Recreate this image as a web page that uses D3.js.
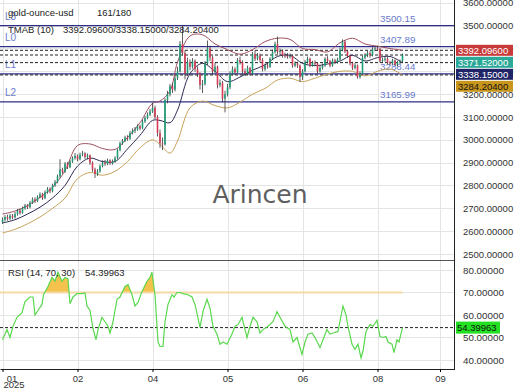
<!DOCTYPE html>
<html><head><meta charset="utf-8">
<script src="https://cdn.jsdelivr.net/npm/d3@7"></script>
<style>body{margin:0;background:#fff}svg{display:block;font-family:"Liberation Sans",Arial,sans-serif}</style>
</head><body><svg id="c" width="520" height="390"></svg>
<script>
// ---------- data ----------
const opens = [2640,2650,2662,2655,2668,2660,2675,2690,2680,2700,
2712,2705,2725,2740,2732,2750,2762,2745,2770,2785,
2775,2800,2815,2840,2870,2860,2895,2880,2905,2920,
2930,2915,2935,2940,2925,2932,2900,2870,2850,2862,
2885,2900,2895,2910,2898,2905,2920,2955,2985,2995,
3010,3005,3030,3040,3045,3060,3050,3080,3095,3110,
3125,3140,3100,3030,2985,2980,3175,3200,3235,3220,
3270,3300,3420,3380,3290,3340,3320,3345,3310,3290,
3240,3245,3335,3400,3360,3300,3320,3240,3250,3180,
3200,3230,3290,3310,3295,3350,3340,3300,3290,3315,
3290,3375,3355,3370,3350,3310,3325,3320,3355,3385,
3420,3385,3390,3370,3368,3365,3368,3325,3335,3325,
3275,3300,3340,3355,3325,3338,3335,3300,3315,3325,
3355,3345,3325,3348,3340,3352,3395,3430,3388,3368,
3335,3315,3326,3275,3290,3360,3372,3380,3370,3397,
3400,3398,3345,3350,3356,3338,3335,3348,3330,3340,
3345];
const closes = [2650,2662,2655,2668,2660,2675,2690,2680,2700,2712,
2705,2725,2740,2732,2750,2762,2745,2770,2785,2775,
2800,2815,2840,2870,2860,2895,2880,2905,2920,2930,
2915,2935,2940,2925,2932,2900,2870,2850,2862,2885,
2900,2895,2910,2898,2905,2920,2955,2985,2995,3010,
3005,3030,3040,3045,3060,3050,3080,3095,3110,3125,
3140,3100,3030,2985,2980,3175,3200,3235,3220,3270,
3300,3420,3380,3290,3340,3320,3345,3310,3290,3240,
3245,3335,3400,3360,3300,3320,3240,3250,3180,3200,
3230,3290,3310,3295,3350,3340,3300,3290,3315,3290,
3375,3355,3370,3350,3310,3325,3320,3355,3385,3420,
3385,3390,3370,3368,3365,3368,3325,3335,3325,3275,
3300,3340,3355,3325,3338,3335,3300,3315,3325,3355,
3345,3325,3348,3340,3352,3395,3430,3388,3368,3335,
3315,3326,3275,3290,3360,3372,3380,3370,3397,3400,
3398,3345,3350,3356,3338,3335,3348,3330,3340,3345,
3371.52];
const highs = [2660,2670,2672,2676,2675,2684,2697,2699,2708,2720,
2718,2732,2748,2748,2757,2770,2768,2778,2793,2792,
2808,2824,2848,2915,2878,2903,2902,2912,2928,2942,
2936,2944,2952,2946,2940,2936,2906,2878,2872,2892,
2910,2912,2918,2915,2914,2928,2962,2992,3004,3018,
3020,3038,3050,3056,3068,3066,3088,3104,3120,3135,
3162,3150,3108,3045,3010,3182,3215,3245,3248,3285,
3320,3432,3500,3392,3360,3352,3358,3352,3322,3296,
3262,3345,3435,3412,3368,3338,3325,3265,3258,3215,
3245,3300,3322,3318,3358,3365,3348,3312,3325,3320,
3385,3392,3380,3378,3358,3334,3340,3362,3395,3430,
3452,3400,3396,3382,3380,3378,3372,3344,3342,3330,
3310,3350,3365,3360,3346,3348,3340,3325,3334,3362,
3366,3350,3356,3355,3360,3404,3440,3436,3394,3372,
3342,3336,3330,3300,3368,3380,3390,3388,3405,3410,
3412,3402,3360,3365,3362,3346,3355,3352,3346,3352,
3378];
const lows = [2632,2643,2646,2648,2652,2655,2668,2672,2676,2694,
2697,2700,2719,2724,2727,2744,2737,2740,2764,2766,
2770,2794,2810,2834,2852,2855,2872,2876,2899,2913,
2906,2910,2928,2917,2915,2890,2860,2833,2842,2856,
2879,2886,2889,2890,2891,2900,2915,2950,2978,2990,
2996,3000,3024,3030,3040,3042,3046,3074,3090,3104,
3118,3090,3015,2965,2955,2975,3160,3190,3205,3212,
3262,3295,3370,3265,3280,3305,3312,3298,3275,3220,
3205,3238,3328,3345,3285,3290,3225,3230,3165,3120,
3190,3222,3282,3285,3290,3330,3290,3280,3284,3282,
3285,3345,3348,3340,3300,3302,3312,3315,3350,3378,
3375,3370,3360,3358,3355,3356,3316,3318,3315,3253,
3262,3295,3334,3318,3320,3326,3290,3294,3308,3320,
3338,3318,3320,3332,3334,3348,3388,3380,3358,3326,
3306,3308,3268,3268,3286,3352,3362,3360,3365,3388,
3390,3338,3336,3342,3330,3326,3330,3322,3322,3332,
3340];

const bandIdx = [0,5,10,15,20,25,30,35,40,45,50,55,60,63,67,70,75,80,85,90,95,100,105,110,115,120,125,130,135,140,145,150,155,160];
const bandTop = [2675,2688,2712,2748,2792,2865,2975,2982,2962,2958,3010,3075,3160,3170,3215,3340,3455,3460,3420,3395,3375,3395,3430,3445,3440,3400,3395,3385,3425,3445,3420,3410,3400,3392.096];
const bandMid = [2636,2650,2675,2705,2745,2800,2885,2920,2905,2905,2960,3020,3085,3085,3075,3130,3290,3335,3300,3255,3275,3305,3328,3365,3370,3335,3325,3332,3345,3370,3345,3360,3365,3338.15];
const bandLow = [2592,2608,2632,2662,2700,2745,2830,2857,2845,2862,2905,2965,3000,2980,2942,2995,3140,3170,3150,3140,3165,3200,3225,3262,3270,3255,3270,3288,3300,3300,3280,3300,3310,3284.204];

const rsiIdx = [0,1.8,3,4.2,5.8,7.8,9,11,12.2,13,14.2,15.8,16.4,18.2,19.8,21,22.2,23.8,25,26.2,27,28.2,29.8,31.8,33,33.8,35,36.2,37.4,38.2,39.8,41,42.2,43,44.2,45.8,47,49,50.2,51.8,53,54.2,55.8,57.8,59,59.8,61,62.2,63,64.2,65,66.2,67.8,68.6,69.8,71,72.2,74.2,75.8,77,79,80.2,81.8,83,84.2,85.8,87,88.2,89.8,91.8,93,94.2,95.8,97,97.8,99,100.2,101.8,103,104.2,106.2,108.2,109.8,111,113,115,116.2,117.8,119.8,121,122.2,123.8,125,127,128.2,129.8,131,132.2,134.2,136.2,137.4,138.2,139.8,141,142.2,143.4,144.2,145.4,147,148.2,149.8,151,152.2,153.4,154.2,155.8,156.6,157.8,158.6,160];
const rsiVal = [49,53.5,50,55,59,61,66,68,68,60,62,64.7,69,72.7,76.7,75,79,75,76.7,76,65,68,69.5,69.5,69.8,64,62,54,49,53.5,59,57,55,52,57,67,68,72.7,73.5,69,64,65.6,70.5,75,76.7,79,69,48,46,46,57,64.7,69,68,70,70,69.5,69,68,64.7,54.5,61.5,67,63,55,51.5,47,48,47,51.5,55,55.7,59,53.5,50,55,59,57,52,53.5,55,57,61.5,59,55,53.5,48,50,42.5,48,51.5,52,50,45.5,49,53.5,51.5,52,52.7,64,60,55,47,44.7,47,41,44,52.7,55.7,55,57.6,50.4,50,50.4,48,47,43.3,49,48,54.39963];

const levelNames = ["L3","L0","L1","L2"];
const levelValues = [3500.15,3407.89,3288.44,3165.99];
const currentValues = [3392.096,3371.52,3338.15,3284.204];
const currentLabels = ["3392.09600","3371.52000","3338.15000","3284.20400"];
const priceTicks = [2500,2600,2700,2800,2900,3000,3100,3200,3300,3400,3500,3600];
const rsiTicks = [40,50,60,70,80];
const xTickIdx = [0,30,60,90,120,150,175];
const xTickLabels = ["01","02","04","05","06","08","09"];
const rsiLast = 54.39963;

// ---------- layout ----------
const svg = d3.select("#c");
const plotR = 454;
const x = d3.scaleLinear().domain([-1,180.6]).range([0,plotR]);
const y = d3.scaleLinear().domain([2478.1,3612.4]).range([259,0]);
const yr = d3.scaleLinear().domain([36,84.44]).range([369,260]);
const idx = d3.range(closes.length);

const grid = svg.append("g").attr("stroke","#e4e4e4").attr("stroke-width",1);
priceTicks.forEach(v=>grid.append("line").attr("x1",0).attr("x2",plotR).attr("y1",Math.round(y(v))+0.5).attr("y2",Math.round(y(v))+0.5));
rsiTicks.forEach(v=>grid.append("line").attr("x1",0).attr("x2",plotR).attr("y1",Math.round(yr(v))+0.5).attr("y2",Math.round(yr(v))+0.5));
xTickIdx.forEach(v=>grid.append("line").attr("x1",Math.round(x(v))+0.5).attr("x2",Math.round(x(v))+0.5).attr("y1",0).attr("y2",369));

// level lines
const lvl = svg.append("g");
levelValues.forEach((v,i)=>{
  lvl.append("line").attr("x1",0).attr("x2",plotR).attr("y1",y(v)).attr("y2",y(v)).attr("stroke","#2e2e8a").attr("stroke-width",1.3);
  lvl.append("text").attr("x",380).attr("y",y(v)-4).attr("font-size",9.8).attr("fill","#6b7bcc").text(v.toFixed(2));
  lvl.append("text").attr("x",5).attr("y",y(v)-6).attr("font-size",10).attr("fill","#6b7bcc").text(levelNames[i]);
});
// current dashed lines
currentValues.forEach(v=>{
  svg.append("line").attr("x1",0).attr("x2",plotR).attr("y1",y(v)).attr("y2",y(v)).attr("stroke","#222").attr("stroke-width",1).attr("stroke-dasharray","3,2");
});

// bands
const bandLine = arr => d3.line().x((d,i)=>x(bandIdx[i])).y(d=>y(d)).curve(d3.curveCatmullRom)(arr);
svg.append("path").attr("d",bandLine(bandTop)).attr("fill","none").attr("stroke","#a0505f").attr("stroke-width",1);
svg.append("path").attr("d",bandLine(bandMid)).attr("fill","none").attr("stroke","#2b2b55").attr("stroke-width",1);
svg.append("path").attr("d",bandLine(bandLow)).attr("fill","none").attr("stroke","#c8a25a").attr("stroke-width",1);

// candles
const cg = svg.append("g");
idx.forEach(i=>{
  const up = closes[i] >= opens[i];
  cg.append("line").attr("x1",x(i)).attr("x2",x(i)).attr("y1",y(highs[i])).attr("y2",y(lows[i])).attr("stroke","#333").attr("stroke-width",0.8);
  const t = y(Math.max(opens[i],closes[i])), b = y(Math.min(opens[i],closes[i]));
  cg.append("rect").attr("x",x(i)-0.8).attr("width",1.6).attr("y",t).attr("height",Math.max(1,b-t)).attr("fill",up?"#1e9e78":"#d63a55");
});

// watermark
svg.append("text").attr("x",260).attr("y",203).attr("text-anchor","middle").attr("font-family","DejaVu Sans").attr("font-size",25).attr("fill","#5f5f5f").text("Arincen");

// RSI panel
svg.append("line").attr("x1",0).attr("x2",plotR).attr("y1",260.5).attr("y2",260.5).attr("stroke","#555");
const rsiPts = rsiIdx.map((d,i)=>[d,rsiVal[i]]);
svg.append("clipPath").attr("id","above70").append("rect").attr("x",0).attr("y",260).attr("width",plotR).attr("height",yr(70)-260);
svg.append("path").attr("clip-path","url(#above70)")
  .attr("d",d3.area().x(d=>x(d[0])).y0(yr(70)).y1(d=>yr(d[1]))(rsiPts))
  .attr("fill","#f5c24e");
svg.append("line").attr("x1",0).attr("x2",x(160)).attr("y1",yr(70)).attr("y2",yr(70)).attr("stroke","#f6d9a6").attr("stroke-width",2);
svg.append("line").attr("x1",0).attr("x2",plotR).attr("y1",yr(rsiLast)).attr("y2",yr(rsiLast)).attr("stroke","#222").attr("stroke-dasharray","3,2");
svg.append("path").attr("d",d3.line().x(d=>x(d[0])).y(d=>yr(d[1]))(rsiPts)).attr("fill","none").attr("stroke","#5ad84e").attr("stroke-width",1.2);

// axes
const ax = svg.append("g").attr("transform",`translate(${plotR},0)`).call(d3.axisRight(y).tickValues(priceTicks).tickFormat(d=>d.toFixed(5)).tickSize(0).tickPadding(9));
ax.select(".domain").remove();
ax.selectAll("text").attr("font-size",9.5).attr("fill","#333").attr("font-family","Liberation Sans, Arial, sans-serif");
const axr = svg.append("g").attr("transform",`translate(${plotR},0)`).call(d3.axisRight(yr).tickValues(rsiTicks).tickFormat(d=>d.toFixed(5)).tickSize(0).tickPadding(9));
axr.select(".domain").remove();
axr.selectAll("text").attr("font-size",9.8).attr("fill","#333").attr("font-family","Liberation Sans, Arial, sans-serif");

const axb = svg.append("g").attr("transform","translate(0,369)").call(d3.axisBottom(x).tickValues(xTickIdx).tickFormat((d,i)=>xTickLabels[i]).tickSizeInner(3).tickSizeOuter(0).tickPadding(3));
axb.select(".domain").attr("stroke","#222");
axb.selectAll("text").attr("font-size",9.5).attr("fill","#333").attr("font-family","Liberation Sans, Arial, sans-serif");
axb.selectAll(".tick").filter((d,i)=>i===0).select("text").attr("x",9);
svg.append("text").attr("x",14).attr("y",388).attr("text-anchor","middle").attr("font-size",9.5).attr("fill","#333").text("2025");
svg.append("line").attr("x1",plotR+0.5).attr("x2",plotR+0.5).attr("y1",0).attr("y2",370).attr("stroke","#222");

// badges
const badgeFill = ["#c83a3a","#2aa898","#1f2466","#c9961c"];
const badgeText = ["#fff","#fff","#fff","#111"];
let prev = -100;
currentValues.forEach((v,i)=>{
  let cy = Math.max(y(v), prev + 12); prev = cy;
  svg.append("rect").attr("x",456).attr("y",cy-5.5).attr("width",57).attr("height",11).attr("fill",badgeFill[i]);
  svg.append("text").attr("x",458).attr("y",cy+3.5).attr("font-size",9.5).attr("fill",badgeText[i]).text(currentLabels[i]);
});
svg.append("rect").attr("x",456).attr("y",yr(rsiLast)-6).attr("width",44).attr("height",12).attr("fill","#22e022");
svg.append("text").attr("x",457).attr("y",yr(rsiLast)+3.5).attr("font-size",9.5).attr("fill","#111").text(rsiLast.toFixed(5));

// headers
svg.append("text").attr("x",8).attr("y",16).attr("font-size",9.5).attr("fill","#222").text("gold-ounce-usd");
svg.append("text").attr("x",97).attr("y",16).attr("font-size",9.5).attr("fill","#222").text(`${closes.length}/180`);
svg.append("text").attr("x",8).attr("y",33).attr("font-size",9.5).attr("fill","#222").text("TMAB (10)");
svg.append("text").attr("x",63).attr("y",33).attr("font-size",9.5).attr("fill","#222").text(currentLabels[0]+"/"+currentLabels[2]+"/"+currentLabels[3]);
svg.append("text").attr("x",8).attr("y",276).attr("font-size",9.5).attr("fill","#222").text("RSI (14, 70, 30)");
svg.append("text").attr("x",85).attr("y",276).attr("font-size",9.5).attr("fill","#222").text(rsiLast.toFixed(5));
</script></body></html>
